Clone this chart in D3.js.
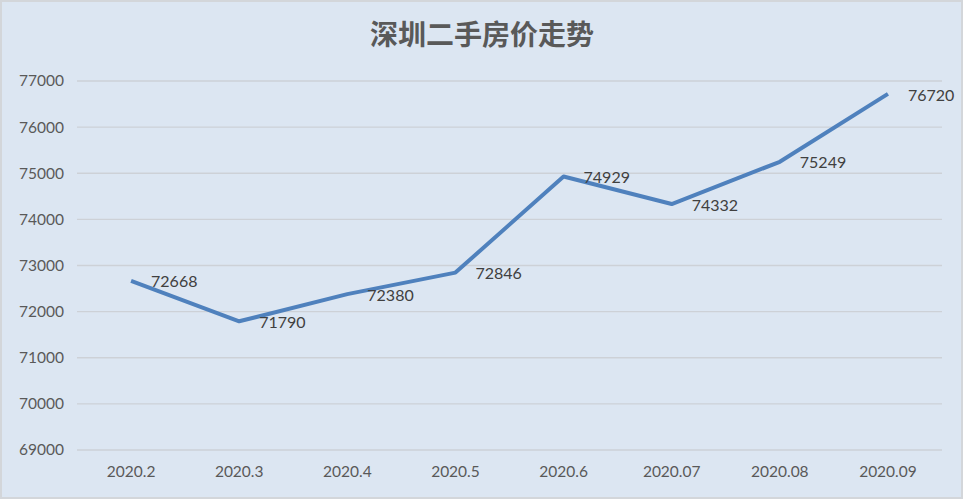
<!DOCTYPE html>
<html lang="zh">
<head>
<meta charset="UTF-8">
<title>深圳二手房价走势</title>
<script src="https://cdn.jsdelivr.net/npm/d3@7"></script>
<style>
  body { margin: 0; background: #fff; }
  svg { display: block; }
</style>
</head>
<body>
<svg id="chart" width="965" height="502"></svg>
<script>
// data
const months = ['2020.2', '2020.3', '2020.4', '2020.5', '2020.6', '2020.07', '2020.08', '2020.09'];
const prices = [72668, 71790, 72380, 72846, 74929, 74332, 75249, 76720];
const yTicks = [69000, 70000, 71000, 72000, 73000, 74000, 75000, 76000, 77000];
const title = '深圳二手房价走势';

const W = 965, H = 502;
const plot = { left: 77, right: 942, top: 81, bottom: 450 };
const latin = 'Lato, "Open Sans", "Noto Sans", sans-serif';

const svg = d3.select('#chart');

// chart area background + frame
svg.append('rect')
    .attr('x', 1).attr('y', 1)
    .attr('width', W - 4).attr('height', H - 5)
    .attr('fill', '#dce6f2')
    .attr('stroke', '#d3d6da')
    .attr('stroke-width', 2);

svg.append('text')
    .attr('x', 482).attr('y', 45)
    .attr('text-anchor', 'middle')
    .attr('font-family', '"Noto Sans CJK SC", sans-serif')
    .attr('font-weight', 'bold')
    .attr('font-size', 28)
    .attr('fill', '#595959')
    .text(title);

const x = d3.scaleBand()
    .domain(months)
    .range([plot.left, plot.right]);

const y = d3.scaleLinear()
    .domain([69000, 77000])
    .range([plot.bottom, plot.top]);

// gridlines
svg.append('g')
    .selectAll('line')
    .data(yTicks)
    .join('line')
    .attr('x1', plot.left).attr('x2', plot.right)
    .attr('y1', d => y(d)).attr('y2', d => y(d))
    .attr('stroke', '#cdd1d7')
    .attr('stroke-width', 1.4);

// y axis labels
const yAxis = svg.append('g')
    .attr('transform', `translate(${plot.left - 13},0)`)
    .call(d3.axisLeft(y).tickValues(yTicks).tickSize(0).tickPadding(0).tickFormat(d3.format('d')));
yAxis.select('.domain').remove();
yAxis.selectAll('text')
    .attr('font-family', latin)
    .attr('font-size', 15.5)
    .attr('fill', '#595959');

// x axis labels
const xAxis = svg.append('g')
    .attr('transform', `translate(0,${plot.bottom + 13})`)
    .call(d3.axisBottom(x).tickSize(0).tickPadding(0));
xAxis.select('.domain').remove();
xAxis.selectAll('text')
    .attr('dy', '0.9em')
    .attr('font-family', latin)
    .attr('font-size', 15.5)
    .attr('fill', '#595959');

const cx = (d, i) => x(months[i]) + x.bandwidth() / 2;

const line = d3.line()
    .x(cx)
    .y(d => y(d));

svg.append('path')
    .datum(prices)
    .attr('d', line)
    .attr('fill', 'none')
    .attr('stroke', '#4f81bd')
    .attr('stroke-width', 4)
    .attr('stroke-linejoin', 'round');

// data labels to the right of each point
svg.append('g')
    .selectAll('text')
    .data(prices)
    .join('text')
    .attr('x', (d, i) => cx(d, i) + 20)
    .attr('y', d => y(d) + 1)
    .attr('dy', '0.35em')
    .attr('font-family', latin)
    .attr('font-size', 16)
    .attr('fill', '#404040')
    .text(d => d);
</script>
</body>
</html>
